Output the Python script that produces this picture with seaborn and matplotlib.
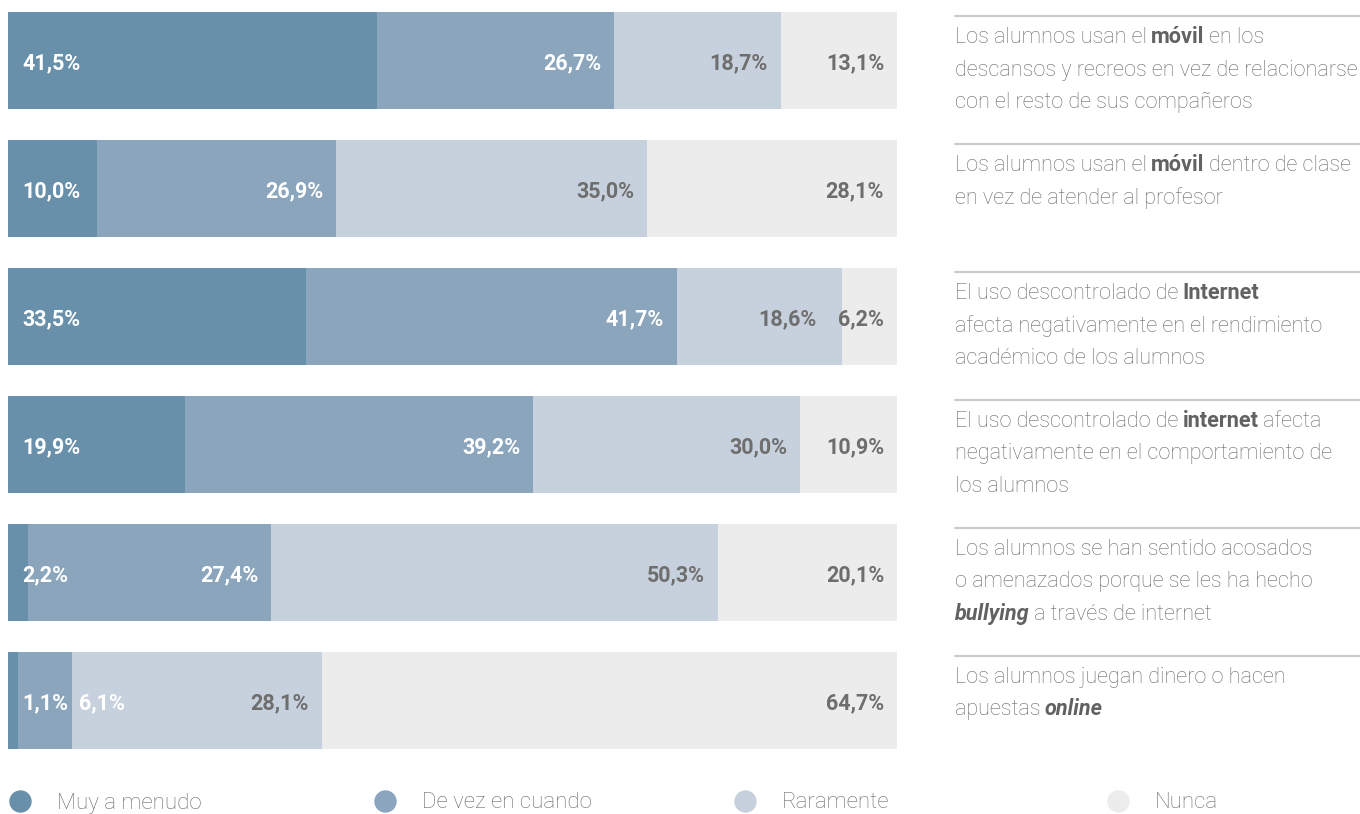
import numpy as np
import pandas as pd
import seaborn as sns
import matplotlib.pyplot as plt

# datos (porcentajes por pregunta)
preguntas = ['movil_recreo', 'movil_clase', 'internet_rendimiento',
             'internet_comportamiento', 'ciberbullying', 'apuestas']
muy_a_menudo = [41.5, 10.0, 33.5, 19.9, 2.2, 1.1]
de_vez_en_cuando = [26.7, 26.9, 41.7, 39.2, 27.4, 6.1]
raramente = [18.7, 35.0, 18.6, 30.0, 50.3, 28.1]
nunca = [13.1, 28.1, 6.2, 10.9, 20.1, 64.7]
categorias = ['Muy a menudo', 'De vez en cuando', 'Raramente', 'Nunca']

colores = ['#6990ab', '#8ba5bc', '#c7d1dd', '#ececec']
color_etiqueta = ['white', 'white', '#6e6e6e', '#6e6e6e']
gris_texto = '#6a6a6a'

# textos de la derecha: (fragmento, estilo) n=normal, b=negrita, bi=negrita cursiva
textos = [
    [[('Los alumnos usan el', 'n'), ('móvil', 'b'), ('en los', 'n')],
     [('descansos y recreos en vez de relacionarse', 'n')],
     [('con el resto de sus compañeros', 'n')]],
    [[('Los alumnos usan el', 'n'), ('móvil', 'b'), ('dentro de clase', 'n')],
     [('en vez de atender al profesor', 'n')]],
    [[('El uso descontrolado de', 'n'), ('Internet', 'b')],
     [('afecta negativamente en el rendimiento', 'n')],
     [('académico de los alumnos', 'n')]],
    [[('El uso descontrolado de', 'n'), ('internet', 'b'), ('afecta', 'n')],
     [('negativamente en el comportamiento de', 'n')],
     [('los alumnos', 'n')]],
    [[('Los alumnos se han sentido acosados', 'n')],
     [('o amenazados porque se les ha hecho', 'n')],
     [('bullying', 'bi'), ('a través de internet', 'n')]],
    [[('Los alumnos juegan dinero o hacen', 'n')],
     [('apuestas', 'n'), ('online', 'bi')]],
]

sns.set_theme(style='white')
plt.rcParams['font.family'] = ['Roboto', 'DejaVu Sans']

W, H = 1360, 814
fig = plt.figure(figsize=(W / 100, H / 100), dpi=100)
ax = fig.add_axes([8 / W, 65 / H, 889 / W, 737 / H])

series = [muy_a_menudo, de_vez_en_cuando, raramente, nunca]
acum = np.cumsum(np.array(series), axis=0)
df = pd.DataFrame({'pregunta': preguntas})
for k, cat in enumerate(categorias):
    df[cat] = acum[k]

# barras apiladas: se pinta el acumulado de mayor a menor
for k in reversed(range(len(categorias))):
    sns.barplot(data=df, x=categorias[k], y='pregunta', orient='h',
                color=colores[k], saturation=1, width=0.758,
                errorbar=None, linewidth=0, ax=ax)

ax.set_xlim(0, 100)
ax.set_ylim(len(preguntas) - 1 + 0.379, -0.379)
ax.axis('off')

fig.canvas.draw()
rend = fig.canvas.get_renderer()
px_unit = ax.transData.transform((1, 0))[0] - ax.transData.transform((0, 0))[0]


def fmt(v):
    return f'{v:.1f}%'.replace('.', ',')


fs_val = 15.5
# etiquetas de valor
for i in range(len(preguntas)):
    vals = np.array([s[i] for s in series])
    ends = np.cumsum(vals)
    starts = ends - vals
    anchos = []
    for v in vals:
        t = ax.text(0, i, fmt(v), fontsize=fs_val, weight='bold')
        anchos.append(t.get_window_extent(rend).width / px_unit)
        t.remove()
    rights = np.zeros(4)
    for k in range(4):
        if k == 0:
            rights[k] = starts[k] + 14 / px_unit + anchos[k]
            continue
        pad = 13
        if k < 3 and vals[k + 1] < 8:
            pad = 25
        rights[k] = ends[k] - pad / px_unit
        if rights[k] - anchos[k] < rights[k - 1] + 11 / px_unit:
            rights[k] = rights[k - 1] + 11 / px_unit + anchos[k]
    for k in range(4):
        ax.text(rights[k], i + 0.02, fmt(vals[k]), ha='right', va='center',
                fontsize=fs_val, weight='bold', color=color_etiqueta[k])

# textos descriptivos a la derecha
x0 = 955
fs = 15.6
t = fig.text(0, 0, 'x x', fontsize=fs, weight='light')
t2 = fig.text(0, 0, 'xx', fontsize=fs, weight='light')
esp = t.get_window_extent(rend).width - t2.get_window_extent(rend).width
t.remove()
t2.remove()

for i, lineas in enumerate(textos):
    cy = ax.transData.transform((0, i))[1]
    fig.add_artist(plt.Line2D([x0 / W, 1], [(cy + 44.5) / H] * 2,
                              color='#cbcbcb', lw=1.6))
    for j, frags in enumerate(lineas):
        y = (cy + 17.5 - 32.5 * j) / H
        x = x0
        for s, st in frags:
            kw = dict(fontsize=fs, color=gris_texto, va='baseline', ha='left')
            if st == 'n':
                kw['weight'] = 'light'
            else:
                kw['weight'] = 'bold'
                kw['color'] = '#626262'
            if st == 'bi':
                kw['style'] = 'italic'
            tx = fig.text(x / W, y, s, **kw)
            x = tx.get_window_extent(rend).x1 + esp * 0.85

# leyenda
lax = fig.add_axes([0, 0, 1, 1], zorder=-1)
lax.set_xlim(0, W)
lax.set_ylim(0, H)
lax.axis('off')
pos_leyenda = [20, 385, 745, 1118]
for k, cat in enumerate(categorias):
    lax.scatter([pos_leyenda[k]], [13], s=260, color=colores[k], linewidths=0)
    lax.text(pos_leyenda[k] + 37, 5.5, cat, fontsize=16, weight='light',
             color=gris_texto, va='baseline', ha='left')

fig.savefig('out.png', dpi=100)
